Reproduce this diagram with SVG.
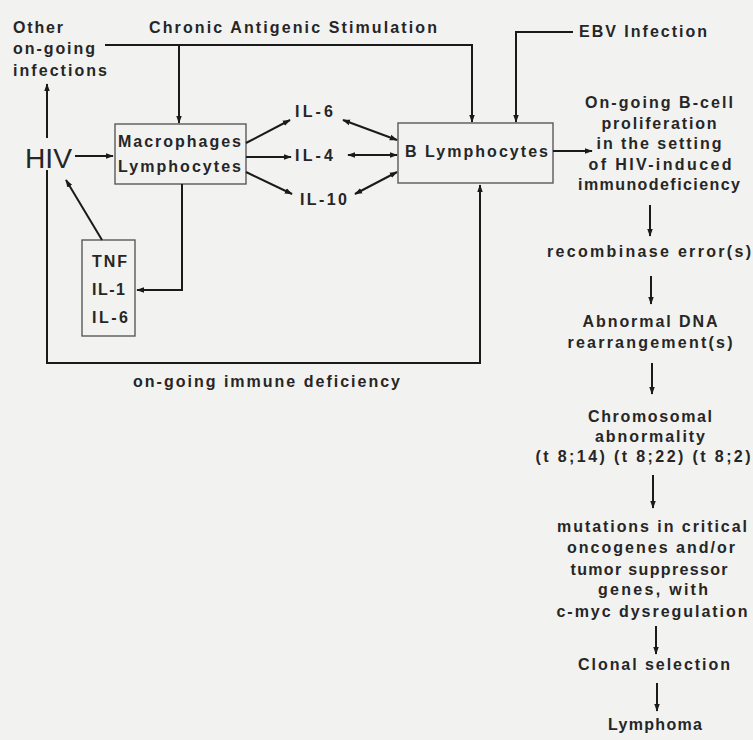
<svg xmlns="http://www.w3.org/2000/svg" width="753" height="740" viewBox="0 0 753 740">
<defs>
<marker id="ah" viewBox="0 0 10 10" refX="9" refY="5" markerWidth="8" markerHeight="8" markerUnits="userSpaceOnUse" orient="auto-start-reverse">
<path d="M0,1.5 L10,5 L0,8.5 z" fill="#1a1a1a"/>
</marker>
<style>
.t{font-family:"Liberation Sans",Arial,sans-serif;font-size:16px;font-weight:bold;fill:#262626}
.c{text-anchor:middle}
.box{fill:none;stroke:#5a5a5a;stroke-width:1.4}
.ln{fill:none;stroke:#1a1a1a;stroke-width:2}
.a{marker-end:url(#ah)}
.b{marker-start:url(#ah);marker-end:url(#ah)}
</style>
</defs>
<rect width="753" height="740" fill="#f2f2f0"/>

<g id="other-infections">
<text class="t" x="13" y="33" textLength="50" lengthAdjust="spacing">Other</text>
<text class="t" x="13" y="54" textLength="82" lengthAdjust="spacing">on-going</text>
<text class="t" x="13" y="76" textLength="94" lengthAdjust="spacing">infections</text>
</g>
<g id="chronic-antigenic-stimulation">
<text class="t" x="149" y="33" textLength="288" lengthAdjust="spacing">Chronic Antigenic Stimulation</text>
</g>
<g id="ebv-infection">
<text class="t" x="579" y="37" textLength="128" lengthAdjust="spacing">EBV Infection</text>
</g>
<g id="hiv">
<text x="25" y="168" font-family="Liberation Sans, Arial, sans-serif" font-size="28" fill="#262626" textLength="47" lengthAdjust="spacingAndGlyphs">HIV</text>
</g>
<g id="macrophages-lymphocytes">
<rect class="box" x="115" y="124" width="131" height="60"/>
<text class="t" x="118" y="147" textLength="123" lengthAdjust="spacing">Macrophages</text>
<text class="t" x="118" y="172" textLength="123" lengthAdjust="spacing">Lymphocytes</text>
</g>
<g id="il-6">
<text class="t" x="295" y="117" textLength="38" lengthAdjust="spacing">IL-6</text>
</g>
<g id="il-4">
<text class="t" x="295" y="161" textLength="38" lengthAdjust="spacing">IL-4</text>
</g>
<g id="il-10">
<text class="t" x="300" y="205" textLength="47" lengthAdjust="spacing">IL-10</text>
</g>
<g id="b-lymphocytes">
<rect class="box" x="398" y="123" width="155" height="60"/>
<text class="t" x="405" y="157" textLength="143" lengthAdjust="spacing">B Lymphocytes</text>
</g>
<g id="tnf-box">
<rect class="box" x="82" y="240" width="53" height="96"/>
<text class="t" x="92" y="267" textLength="35" lengthAdjust="spacing">TNF</text>
<text class="t" x="92" y="295" textLength="33" lengthAdjust="spacing">IL-1</text>
<text class="t" x="92" y="323" textLength="36" lengthAdjust="spacing">IL-6</text>
</g>
<g id="immune-deficiency">
<text class="t" x="133" y="387" textLength="267" lengthAdjust="spacing">on-going immune deficiency</text>
</g>
<g id="proliferation">
<text class="t c" x="659" y="108" textLength="148" lengthAdjust="spacing">On-going B-cell</text>
<text class="t c" x="659" y="129" textLength="115" lengthAdjust="spacing">proliferation</text>
<text class="t c" x="659" y="149" textLength="125" lengthAdjust="spacing">in the setting</text>
<text class="t c" x="660" y="170" textLength="143" lengthAdjust="spacing">of HIV-induced</text>
<text class="t c" x="659" y="190" textLength="162" lengthAdjust="spacing">immunodeficiency</text>
</g>
<g id="recombinase">
<text class="t c" x="649" y="257" textLength="204" lengthAdjust="spacing">recombinase error(s)</text>
</g>
<g id="dna-rearrangement">
<text class="t c" x="650" y="327" textLength="135" lengthAdjust="spacing">Abnormal DNA</text>
<text class="t c" x="650" y="348" textLength="165" lengthAdjust="spacing">rearrangement(s)</text>
</g>
<g id="chromosomal">
<text class="t c" x="650" y="422" textLength="124" lengthAdjust="spacing">Chromosomal</text>
<text class="t c" x="650" y="442" textLength="110" lengthAdjust="spacing">abnormality</text>
<text class="t c" x="643" y="462" textLength="215" lengthAdjust="spacing">(t 8;14) (t 8;22) (t 8;2)</text>
</g>
<g id="mutations">
<text class="t c" x="652" y="532" textLength="190" lengthAdjust="spacing">mutations in critical</text>
<text class="t c" x="651" y="553" textLength="168" lengthAdjust="spacing">oncogenes and/or</text>
<text class="t c" x="649" y="575" textLength="157" lengthAdjust="spacing">tumor suppressor</text>
<text class="t c" x="653" y="595" textLength="110" lengthAdjust="spacing">genes, with</text>
<text class="t c" x="652" y="617" textLength="191" lengthAdjust="spacing">c-myc dysregulation</text>
</g>
<g id="clonal-selection">
<text class="t c" x="654" y="670" textLength="152" lengthAdjust="spacing">Clonal selection</text>
</g>
<g id="lymphoma">
<text class="t c" x="655" y="730" textLength="94" lengthAdjust="spacing">Lymphoma</text>
</g>

<g id="connectors">
<path class="ln a" d="M105,45 H472 V122"/>
<path class="ln a" d="M179,45 V123"/>
<path class="ln a" d="M573,32 H516 V122"/>
<path class="ln a" d="M75,156 H113"/>
<path class="ln a" d="M47,138 V84"/>
<path class="ln a" d="M47,170 V363 H480 V185"/>
<path class="ln a" d="M102,240 L66,180"/>
<path class="ln a" d="M182,184 V290 H137"/>
<path class="ln a" d="M246,143 L290,120"/>
<path class="ln a" d="M246,157 H291"/>
<path class="ln a" d="M246,172 L292,194"/>
<path class="ln b" d="M343,120 L397,140"/>
<path class="ln b" d="M348,155 H397"/>
<path class="ln b" d="M355,194 L397,172"/>
<path class="ln a" d="M553,151 H592"/>
<path class="ln a" d="M650,205 V236"/>
<path class="ln a" d="M651,276 V304"/>
<path class="ln a" d="M652,363 V394"/>
<path class="ln a" d="M653,475 V508"/>
<path class="ln a" d="M656,626 V654"/>
<path class="ln a" d="M657,683 V711"/>
</g>
</svg>
